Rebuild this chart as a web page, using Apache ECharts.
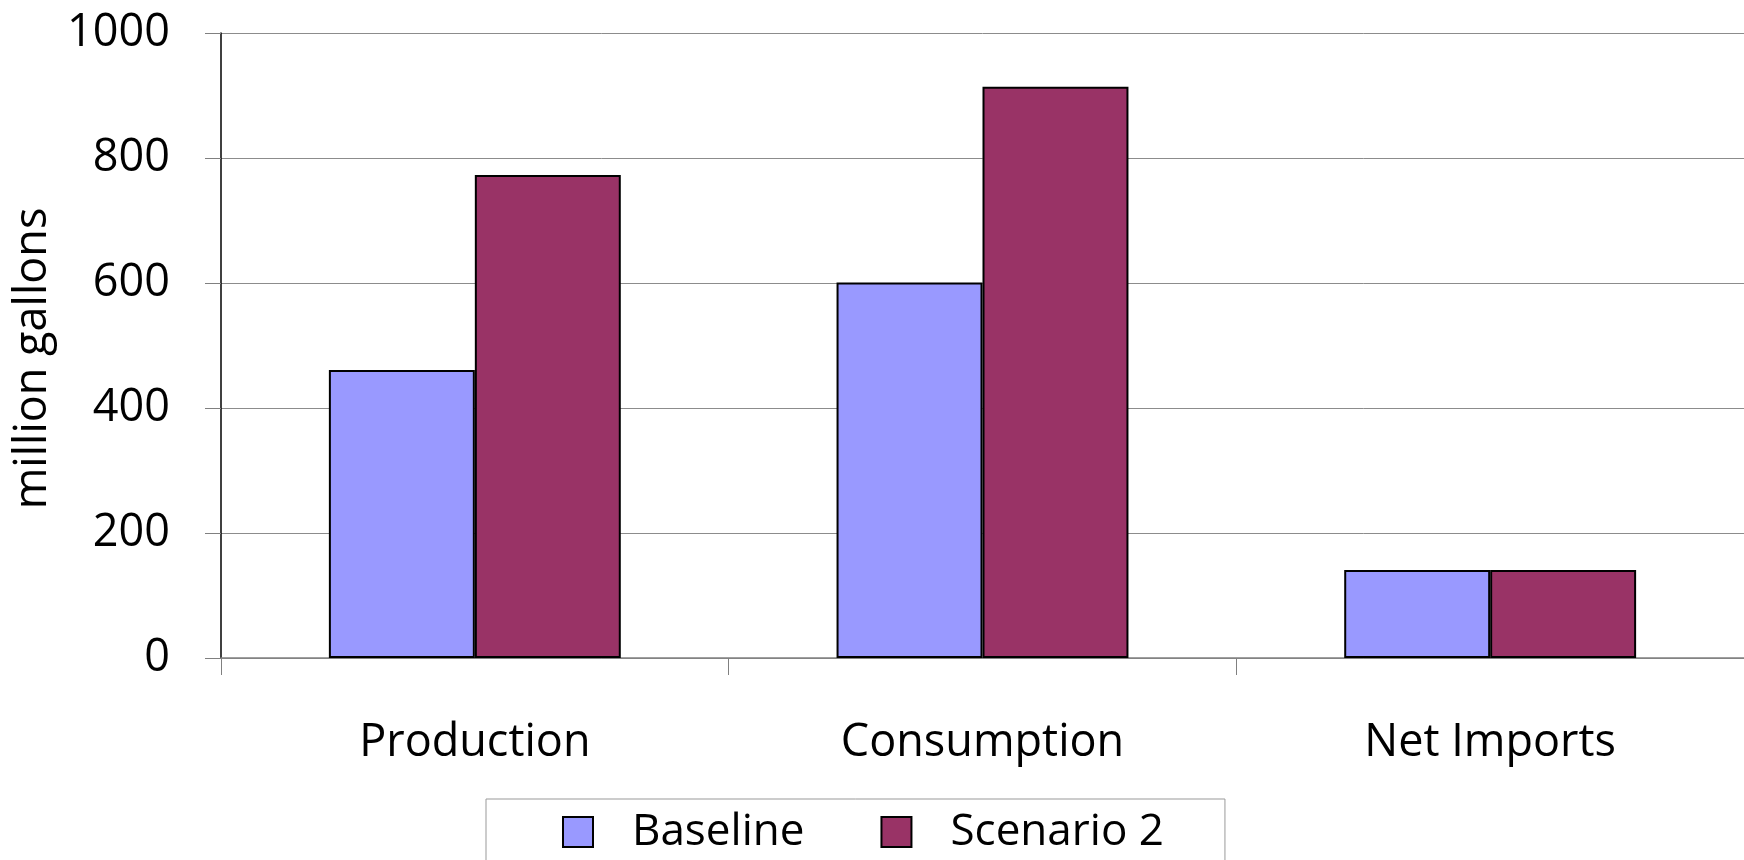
<!DOCTYPE html>
<html>
<head>
<meta charset="utf-8">
<script src="https://cdn.jsdelivr.net/npm/echarts@6/dist/echarts.min.js"></script>
<style>
  html, body { margin: 0; padding: 0; background: #fff; }
  #chart { width: 1744px; height: 860px; }
</style>
</head>
<body>
<div id="chart"></div>
<script>
// Fuel balance, million gallons
const categories = ['Production', 'Consumption', 'Net Imports'];
const baseline = [461, 601, 141];
const scenario2 = [773, 914, 141];
const yTicks = [0, 200, 400, 600, 800, 1000];

const FONT = '"Open Sans"';
const chart = echarts.init(document.getElementById('chart'), null, { renderer: 'canvas' });

chart.setOption({
  animation: false,
  backgroundColor: '#ffffff',
  textStyle: { fontFamily: FONT, color: '#000' },
  grid: { left: 221, right: -2, top: 33, bottom: 202, containLabel: false },
  legend: {
    data: ['Baseline', 'Scenario 2'],
    left: 486,
    top: 799,
    orient: 'horizontal',
    icon: 'rect',
    itemWidth: 30,
    itemHeight: 30,
    itemGap: 76,
    padding: [11, 61, 40, 76],
    borderColor: '#999',
    borderWidth: 1,
    textStyle: { fontFamily: FONT, fontSize: 44, color: '#000', padding: [0, 0, 0, 34] },
    itemStyle: { borderColor: '#000', borderWidth: 2 }
  },
  xAxis: {
    type: 'category',
    data: categories,
    axisLine: { lineStyle: { color: '#808080', width: 1.5 } },
    axisTick: { show: true, length: 17, lineStyle: { color: '#808080', width: 1 } },
    axisLabel: { fontFamily: FONT, fontSize: 45, color: '#000', margin: 63 }
  },
  yAxis: {
    type: 'value',
    min: yTicks[0],
    max: yTicks[yTicks.length - 1],
    interval: 200,
    name: 'million gallons',
    nameLocation: 'middle',
    nameRotate: 90,
    nameGap: 157,
    nameTextStyle: { fontFamily: FONT, fontSize: 45, color: '#000', padding: [0, 26, 0, 0] },
    axisLine: { show: true, lineStyle: { color: '#000', width: 1.5 } },
    axisTick: { show: true, length: 16, lineStyle: { color: '#808080', width: 1 } },
    axisLabel: {
      fontFamily: FONT, fontSize: 45, color: '#000', margin: 51,
      formatter: (v) => String(v)
    },
    splitLine: { show: true, lineStyle: { color: '#8c8c8c', width: 1 } }
  },
  series: [
    {
      name: 'Baseline',
      type: 'bar',
      data: baseline,
      barGap: '0%',
      barCategoryGap: '42.5%',
      itemStyle: { color: '#9999FF', borderColor: '#000', borderWidth: 2 }
    },
    {
      name: 'Scenario 2',
      type: 'bar',
      data: scenario2,
      barGap: '0%',
      barCategoryGap: '42.5%',
      itemStyle: { color: '#993366', borderColor: '#000', borderWidth: 2 }
    }
  ]
});
</script>
</body>
</html>
